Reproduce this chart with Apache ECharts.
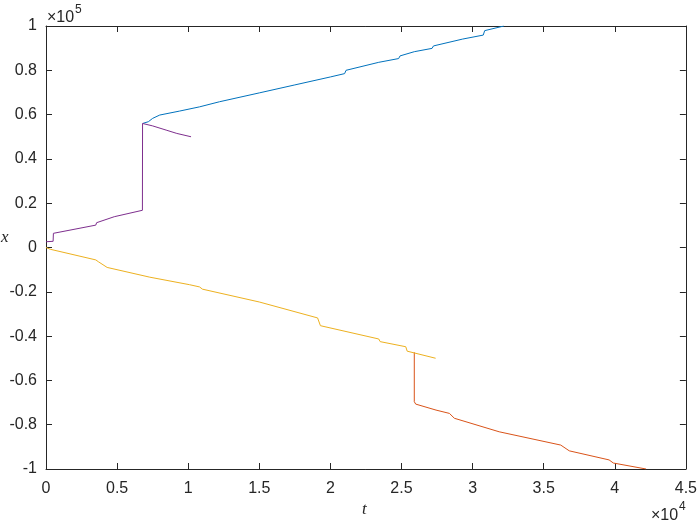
<!DOCTYPE html>
<html>
<head>
<meta charset="utf-8">
<script src="https://cdn.jsdelivr.net/npm/echarts@6/dist/echarts.min.js"></script>
<style>html,body{margin:0;padding:0;background:#fff}#c{width:700px;height:525px}</style>
</head>
<body>
<div id="c"></div>
<script>
// x-axis ticks (t) and y-axis ticks (x)
const tTicks = [0, 5000, 10000, 15000, 20000, 25000, 30000, 35000, 40000, 45000];
const xTicks = [-100000, -80000, -60000, -40000, -20000, 0, 20000, 40000, 60000, 80000, 100000];

// Blue series
const blueT = [6800, 7200, 7500, 8000, 9400, 10800, 12200, 15000, 17500, 20000, 21000, 21100, 23400, 24800, 24900, 25900, 27150, 27250, 29300, 30750, 30850, 32200];
const blueX = [56000, 56800, 58300, 59800, 61600, 63500, 65800, 69800, 73400, 77000, 78500, 80000, 83600, 85300, 86500, 88400, 89900, 91000, 94100, 95900, 97900, 100000];

// Orange series
const orangeT = [25900, 25900, 26000, 27430, 28370, 28720, 31870, 36200, 36800, 39600, 39900, 42200];
const orangeX = [-47300, -69600, -70700, -73400, -74900, -77100, -83200, -89200, -91800, -95900, -97300, -100000];

// Yellow series
const yellowT = [0, 300, 3500, 3700, 4300, 7300, 10100, 10800, 11000, 15000, 19100, 19300, 23400, 23500, 25300, 25400, 27400];
const yellowX = [0, -800, -5600, -6500, -9000, -13400, -16800, -17800, -18800, -24600, -31800, -35300, -41300, -42500, -44800, -46800, -50000];

// Purple series
const purpleT = [0, 500, 520, 3500, 3560, 4800, 4850, 6780, 6790, 7500, 8500, 8600, 9200, 10200];
const purpleX = [2600, 2800, 6400, 10100, 11200, 13900, 14700, 16800, 56000, 54900, 52900, 52300, 51500, 50000];

const zip = (a, b) => a.map((v, i) => [v, b[i]]);

const axisColor = '#262626';
const font = 'Liberation Sans, Arial, Helvetica, sans-serif';

const chart = echarts.init(document.getElementById('c'), null, {renderer: 'canvas'});

function mkX(pos, show) {
  return {
    type: 'value', position: pos, min: tTicks[0], max: tTicks[tTicks.length - 1], interval: 5000,
    axisLine: {show: true, onZero: false, lineStyle: {color: axisColor, width: 1}},
    axisTick: {show: true, inside: true, length: 6, lineStyle: {color: axisColor}},
    axisLabel: {show: show, color: axisColor, fontSize: 16, fontFamily: font, margin: 12,
      formatter: v => String(Math.round(v / 1000) / 10)},
    splitLine: {show: false}
  };
}
function mkY(pos, show) {
  return {
    type: 'value', position: pos, min: xTicks[0], max: xTicks[xTicks.length - 1], interval: 20000,
    axisLine: {show: true, onZero: false, lineStyle: {color: axisColor, width: 1}},
    axisTick: {show: true, inside: true, length: 6, lineStyle: {color: axisColor}},
    axisLabel: {show: show, color: axisColor, fontSize: 16, fontFamily: font, margin: 9,
      formatter: v => String(Math.round(v / 10000) / 10)},
    splitLine: {show: false}
  };
}

function line(name, t, x, color) {
  return {
    name, type: 'line', data: zip(t, x), showSymbol: false, symbol: 'none',
    lineStyle: {color, width: 1}, itemStyle: {color}, clip: true, animation: false
  };
}

const txt = (x, y, s, size, extra) => ({
  type: 'text', x, y,
  style: Object.assign({text: s, fill: axisColor, fontSize: size, fontFamily: font, textVerticalAlign: 'middle'}, extra || {})
});

chart.setOption({
  animation: false,
  backgroundColor: '#fff',
  grid: {left: 46, right: 13, top: 26, bottom: 56, containLabel: false},
  xAxis: [mkX('bottom', true), mkX('top', false)],
  yAxis: [mkY('left', true), mkY('right', false)],
  series: [
    line('blue', blueT, blueX, '#0072BD'),
    line('orange', orangeT, orangeX, '#D95319'),
    line('yellow', yellowT, yellowX, '#EDB120'),
    line('purple', purpleT, purpleX, '#7E2F8E')
  ],
  graphic: [
    txt(47, 18, '×10', 16),
    txt(75, 10, '5', 12),
    txt(651, 516, '×10', 16),
    txt(679, 507, '4', 12),
    txt(362, 510, 't', 17, {fontFamily: 'Liberation Serif, DejaVu Serif, serif', fontStyle: 'italic'}),
    txt(1, 238, 'x', 17, {fontFamily: 'Liberation Serif, DejaVu Serif, serif', fontStyle: 'italic'})
  ]
});
</script>
</body>
</html>
